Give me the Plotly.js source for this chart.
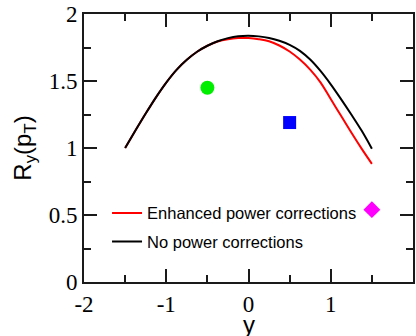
<!DOCTYPE html>
<html>
<head>
<meta charset="utf-8">
<script src="https://cdn.plot.ly/plotly-3.0.1.min.js"></script>
<style>html,body{margin:0;padding:0;background:#fff;}#chart{width:416px;height:336px;}</style>
</head>
<body>
<div id="chart"></div>
<script>
// Rapidity values and curves
const rapidity = [-1.5, -1.375, -1.25, -1.125, -1.0, -0.875, -0.75, -0.625, -0.5, -0.375, -0.25, -0.125, 0.0,
                  0.125, 0.25, 0.375, 0.5, 0.625, 0.75, 0.875, 1.0, 1.125, 1.25, 1.375, 1.5];
const noPowerCorr = [1.0, 1.13, 1.257, 1.378, 1.488, 1.583, 1.658, 1.718, 1.763, 1.797, 1.82, 1.834, 1.838,
                     1.833, 1.821, 1.80, 1.77, 1.725, 1.66, 1.575, 1.475, 1.365, 1.25, 1.13, 0.995];
const enhancedPowerCorr = [1.0, 1.13, 1.257, 1.378, 1.488, 1.583, 1.658, 1.718, 1.763, 1.795, 1.812, 1.82, 1.82,
                           1.812, 1.797, 1.765, 1.72, 1.66, 1.585, 1.49, 1.365, 1.24, 1.115, 0.995, 0.882];

// Single data points
const circleX = [-0.5], circleY = [1.45];
const squareX = [0.5], squareY = [1.19];
const diamondX = [1.5], diamondY = [0.54];

const xTicks = [-2, -1, 0, 1, 2];
const yTicks = [0, 0.5, 1, 1.5, 2];
const yTickText = ['0', '0.5', '1', '1.5', '2'];
const xTitle = 'y';
const yTitle = 'R<sub>y</sub>(p<sub>T</sub>)';

const traces = [
  {x: rapidity, y: enhancedPowerCorr, mode: 'lines', name: 'Enhanced power corrections',
   line: {color: '#ff0000', width: 2, shape: 'spline', smoothing: 1}, legendgroup: 'a'},
  {x: rapidity, y: noPowerCorr, mode: 'lines', name: 'No power corrections',
   line: {color: '#000000', width: 2, shape: 'spline', smoothing: 1}, legendgroup: 'b'},
  {x: circleX, y: circleY, mode: 'markers', showlegend: false,
   marker: {symbol: 'circle', size: 14, color: '#00ee00'}},
  {x: squareX, y: squareY, mode: 'markers', showlegend: false,
   marker: {symbol: 'square', size: 13, color: '#0000ff'}},
  {x: diamondX, y: diamondY, mode: 'markers', showlegend: false,
   marker: {symbol: 'diamond', size: 13, color: '#ff00ff'}}
];

const tickFont = {family: 'Liberation Serif, Times New Roman, serif', size: 23, color: '#000'};
const titleFont = {family: 'Liberation Sans, Arial, sans-serif', size: 24, color: '#000'};

const layout = {
  width: 416, height: 336,
  margin: {l: 84, r: 3, t: 14, b: 54},
  paper_bgcolor: '#fff', plot_bgcolor: '#fff',
  showlegend: true,
  legend: {x: 0.07, y: 0.322, xanchor: 'left', yanchor: 'top',
           bgcolor: 'rgba(0,0,0,0)', borderwidth: 0, traceorder: 'grouped', tracegroupgap: 4,
           font: {family: 'Liberation Sans, Arial, sans-serif', size: 16.5, color: '#000'}},
  annotations: [
    {text: xTitle, xref: 'paper', yref: 'paper', x: 0.5, y: 0, xanchor: 'center', yanchor: 'top',
     yshift: -27, showarrow: false, font: titleFont}
  ],
  xaxis: {
    range: [-2, 2], tickvals: xTicks, ticktext: xTicks.map(String),
    ticks: 'inside', ticklen: 13, tickwidth: 2, tickcolor: '#1a1a1a',
    showline: true, linecolor: '#1a1a1a', linewidth: 2, mirror: 'ticks',
    showgrid: false, zeroline: false, tickfont: tickFont,
    minor: {dtick: 0.5, ticks: 'inside', ticklen: 7, tickwidth: 2, tickcolor: '#1a1a1a', showgrid: false}
  },
  yaxis: {
    range: [0, 2], tickvals: yTicks, ticktext: yTickText,
    ticks: 'inside', ticklen: 13, tickwidth: 2, tickcolor: '#1a1a1a',
    showline: true, linecolor: '#1a1a1a', linewidth: 2, mirror: 'ticks',
    showgrid: false, zeroline: false, tickfont: tickFont,
    minor: {dtick: 0.25, ticks: 'inside', ticklen: 7, tickwidth: 2, tickcolor: '#1a1a1a', showgrid: false},
    title: {text: yTitle, font: titleFont, standoff: 10}
  }
};

Plotly.newPlot('chart', traces, layout, {displayModeBar: false, staticPlot: true});
</script>
</body>
</html>
